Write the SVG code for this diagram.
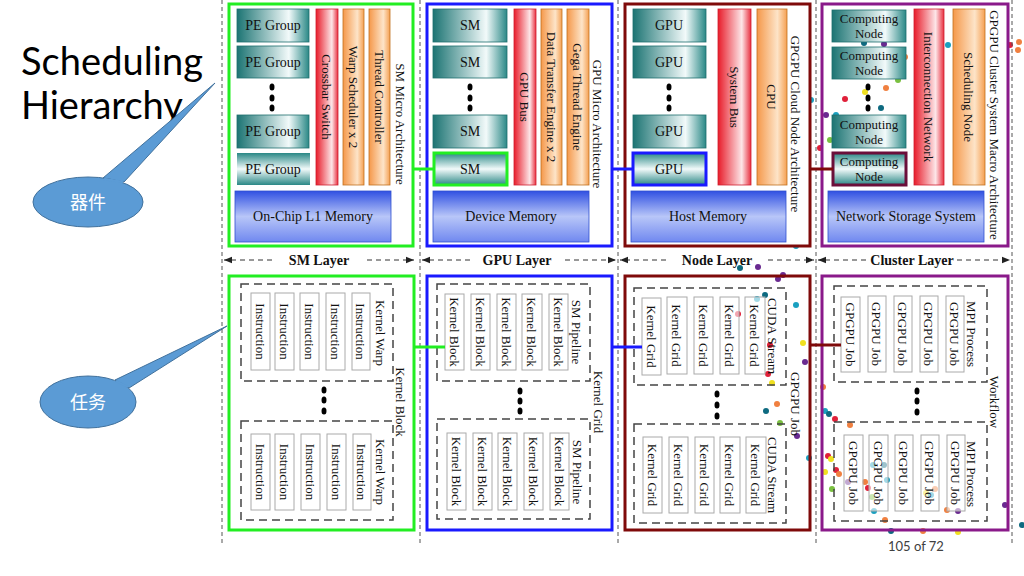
<svg xmlns="http://www.w3.org/2000/svg" width="1024" height="576" viewBox="0 0 1024 576">
<defs>
<linearGradient id="gTeal" x1="0" y1="0" x2="1" y2="0"><stop offset="0" stop-color="#1c7473"/><stop offset="0.72" stop-color="#f2fafa"/><stop offset="1" stop-color="#2a8886"/></linearGradient>
<linearGradient id="gTealV" x1="0" y1="0" x2="0" y2="1"><stop offset="0" stop-color="#2a8886"/><stop offset="0.5" stop-color="#f2fafa"/><stop offset="1" stop-color="#2a8886"/></linearGradient>
<linearGradient id="gRed" x1="0" y1="0" x2="1" y2="0"><stop offset="0" stop-color="#e81c2a"/><stop offset="0.72" stop-color="#fde6e8"/><stop offset="1" stop-color="#e83040"/></linearGradient>
<linearGradient id="gOrange" x1="0" y1="0" x2="1" y2="0"><stop offset="0" stop-color="#f5984a"/><stop offset="0.68" stop-color="#fde4c8"/><stop offset="1" stop-color="#f5a052"/></linearGradient>
<linearGradient id="gBlue" x1="0" y1="0" x2="0" y2="1"><stop offset="0" stop-color="#3050e2"/><stop offset="0.5" stop-color="#b8c6f8"/><stop offset="1" stop-color="#7088f0"/></linearGradient>
<marker id="arr" viewBox="0 0 10 10" refX="10" refY="5" markerWidth="8" markerHeight="8" orient="auto-start-reverse"><path d="M0,1 L10,5 L0,9 z" fill="#222"/></marker>
</defs>
<style>
.t{font-family:"Liberation Serif","Times New Roman",serif;font-size:13px;fill:#111}
.h{font-family:"Liberation Serif","Times New Roman",serif;font-size:14px;fill:#111}
.tb{font-family:"Liberation Serif","Times New Roman",serif;font-size:14px;font-weight:bold;fill:#111}
.teal{fill:url(#gTeal);stroke:#1f6f6e;stroke-width:0.8}
.tealv{fill:url(#gTealV)}
.red{fill:url(#gRed);stroke:#d02030;stroke-width:0.8}
.org{fill:url(#gOrange);stroke:#c07020;stroke-width:0.8}
.blu{fill:url(#gBlue);stroke:#3050d0;stroke-width:0.8}
.vdash{stroke:#555;stroke-width:1;stroke-dasharray:4,3;fill:none}
.grp{fill:none;stroke:#444;stroke-width:1.5;stroke-dasharray:8,5}
.cell{fill:#fff;stroke:#aaa;stroke-width:1}
.dot{fill:#000}
.pg{fill:#fff;stroke-width:3}
.larr{stroke:#333;stroke-width:1;stroke-dasharray:5,4;fill:none}
.co{fill:#5b9bd5;stroke:#41719c;stroke-width:1}
.bg{stroke:none}
</style>
<rect width="1024" height="576" fill="#fff"/>

<g id="background-dots" class="bg">
<circle cx="811" cy="100" r="3" fill="#1aa0c0"/><circle cx="790" cy="117" r="3" fill="#1aa0c0"/><circle cx="799" cy="146" r="3" fill="#0e6a80"/><circle cx="794" cy="151" r="3" fill="#6a2a90"/><circle cx="790" cy="202" r="3" fill="#0e6a80"/><circle cx="789" cy="211" r="3" fill="#1aa0c0"/><circle cx="796" cy="224" r="3" fill="#7ac040"/><circle cx="796" cy="246" r="3" fill="#1aa0c0"/>
<circle cx="864" cy="43" r="3" fill="#0e6a80"/><circle cx="884" cy="44" r="3" fill="#6a2a90"/><circle cx="905" cy="57" r="3" fill="#f08040"/><circle cx="948" cy="45" r="3" fill="#1aa0c0"/><circle cx="1010" cy="45" r="3" fill="#e0203a"/><circle cx="1019" cy="42" r="3" fill="#f08040"/><circle cx="1018" cy="50" r="3" fill="#f08040"/>
<circle cx="898" cy="80" r="3" fill="#7ac040"/><circle cx="865" cy="92" r="3" fill="#f0e020"/><circle cx="886" cy="88" r="3" fill="#f08040"/><circle cx="845" cy="99" r="3" fill="#e0203a"/><circle cx="881" cy="108" r="3" fill="#0e6a80"/><circle cx="826" cy="115" r="3" fill="#6a2a90"/><circle cx="836" cy="115" r="3" fill="#1aa0c0"/><circle cx="830" cy="140" r="3" fill="#7ac040"/><circle cx="820" cy="148" r="3" fill="#e0203a"/>
<circle cx="740" cy="268" r="3" fill="#0e6a80"/><circle cx="758" cy="267" r="3" fill="#6a2a90"/><circle cx="778" cy="279" r="3" fill="#6a2a90"/><circle cx="783" cy="275" r="3" fill="#6a2a90"/><circle cx="757" cy="299" r="3" fill="#1aa0c0"/><circle cx="765" cy="295" r="3" fill="#0e6a80"/><circle cx="796" cy="305" r="3" fill="#1aa0c0"/><circle cx="738" cy="314" r="3" fill="#e0203a"/><circle cx="803" cy="343" r="3" fill="#f0e020"/><circle cx="805" cy="362" r="3" fill="#6a2a90"/><circle cx="770" cy="345" r="3" fill="#e0203a"/><circle cx="768" cy="374" r="3" fill="#e0203a"/><circle cx="772" cy="383" r="3" fill="#f0e020"/><circle cx="777" cy="404" r="3" fill="#f08040"/><circle cx="766" cy="411" r="3" fill="#0e6a80"/><circle cx="780" cy="423" r="3" fill="#7ac040"/><circle cx="797" cy="436" r="3" fill="#6a2a90"/><circle cx="809" cy="458" r="3" fill="#1aa0c0"/>
<circle cx="823" cy="387" r="3" fill="#f08040"/><circle cx="825" cy="411" r="3" fill="#1aa0c0"/><circle cx="829" cy="414" r="3" fill="#0e6a80"/><circle cx="835" cy="419" r="3" fill="#e0203a"/><circle cx="850" cy="425" r="3" fill="#f08040"/><circle cx="828" cy="456" r="3" fill="#e0203a"/><circle cx="831" cy="459" r="3" fill="#f0e020"/><circle cx="836" cy="470" r="3" fill="#e0203a"/><circle cx="839" cy="474" r="3" fill="#f08040"/><circle cx="825" cy="472" r="3" fill="#f0e020"/><circle cx="832" cy="489" r="3" fill="#7ac040"/>
<circle cx="873" cy="465" r="3" fill="#1aa0c0"/><circle cx="884" cy="465" r="3" fill="#0e6a80"/><circle cx="848" cy="482" r="3" fill="#6a2a90"/><circle cx="865" cy="482" r="3" fill="#f08040"/><circle cx="868" cy="488" r="3" fill="#e0203a"/><circle cx="887" cy="480" r="3" fill="#1aa0c0"/><circle cx="872" cy="497" r="3" fill="#7ac040"/><circle cx="874" cy="511" r="3" fill="#1aa0c0"/><circle cx="935" cy="489" r="3" fill="#f08040"/><circle cx="926" cy="493" r="3" fill="#f0e020"/><circle cx="931" cy="495" r="3" fill="#1aa0c0"/><circle cx="947" cy="510" r="3" fill="#f08040"/><circle cx="958" cy="511" r="3" fill="#6a2a90"/><circle cx="1005" cy="505" r="3" fill="#6a2a90"/><circle cx="1022" cy="525" r="3" fill="#0e6a80"/><circle cx="885" cy="520" r="3" fill="#f08040"/><circle cx="891" cy="531" r="3" fill="#0e6a80"/><circle cx="923" cy="531" r="3" fill="#f08040"/><circle cx="958" cy="532" r="3" fill="#f0e020"/>
</g>

<g id="title">
<text x="21" y="75" style="font-family:Lato,'Open Sans',sans-serif;font-size:38px;fill:#000" textLength="182">Scheduling</text>
<text x="21" y="119" style="font-family:Lato,'Open Sans',sans-serif;font-size:38px;fill:#000">Hierarchy</text>
</g>

<g id="callout-device">
<polygon class="co" points="103,178 124,182 215,83"/>
<ellipse class="co" cx="88" cy="202" rx="55" ry="25"/>
<path d="M104,179 L123,182" stroke="#5b9bd5" stroke-width="2.5"/>
<text x="88" y="209" text-anchor="middle" style="font-family:'Noto Sans CJK SC',sans-serif;font-size:18px;fill:#fff">器件</text>
</g>
<g id="callout-task">
<polygon class="co" points="115,380 129,388 227,326"/>
<ellipse class="co" cx="88" cy="402" rx="48" ry="26"/>
<path d="M116,381 L128,387" stroke="#5b9bd5" stroke-width="2.5"/>
<text x="88" y="409" text-anchor="middle" style="font-family:'Noto Sans CJK SC',sans-serif;font-size:18px;fill:#fff">任务</text>
</g>

<g id="dividers">
<line class="vdash" x1="222" y1="0" x2="222" y2="545"/>
<line class="vdash" x1="420" y1="0" x2="420" y2="545"/>
<line class="vdash" x1="618" y1="0" x2="618" y2="545"/>
<line class="vdash" x1="816" y1="0" x2="816" y2="545"/>
<line class="vdash" x1="1012" y1="0" x2="1012" y2="545"/>
</g>

<g id="layer-labels">
<line class="larr" x1="272" y1="260" x2="224" y2="260" marker-end="url(#arr)"/>
<line class="larr" x1="367" y1="260" x2="414" y2="260" marker-end="url(#arr)"/>
<text class="tb" x="319" y="265" text-anchor="middle">SM Layer</text>
<line class="larr" x1="470" y1="260" x2="422" y2="260" marker-end="url(#arr)"/>
<line class="larr" x1="565" y1="260" x2="616" y2="260" marker-end="url(#arr)"/>
<text class="tb" x="517" y="265" text-anchor="middle">GPU Layer</text>
<line class="larr" x1="666" y1="260" x2="620" y2="260" marker-end="url(#arr)"/>
<line class="larr" x1="768" y1="260" x2="814" y2="260" marker-end="url(#arr)"/>
<text class="tb" x="717" y="265" text-anchor="middle">Node Layer</text>
<line class="larr" x1="866" y1="260" x2="818" y2="260" marker-end="url(#arr)"/>
<line class="larr" x1="957" y1="260" x2="1010" y2="260" marker-end="url(#arr)"/>
<text class="tb" x="912" y="265" text-anchor="middle">Cluster Layer</text>
</g>

<!-- ================= TOP: SM ================= -->
<g id="sm-micro-architecture">
<rect class="pg" x="229" y="4" width="184" height="242" stroke="#22ee22"/>
<rect class="teal" x="237" y="9" width="72" height="33"/><text class="h" x="273" y="30" text-anchor="middle">PE Group</text>
<rect class="teal" x="237" y="46" width="72" height="32"/><text class="h" x="273" y="67" text-anchor="middle">PE Group</text>
<ellipse class="dot" cx="272" cy="87" rx="2.5" ry="3.5"/><ellipse class="dot" cx="272" cy="98" rx="2.5" ry="3.5"/><ellipse class="dot" cx="272" cy="108" rx="2.5" ry="3.5"/>
<rect class="teal" x="237" y="115" width="72" height="33"/><text class="h" x="273" y="136" text-anchor="middle">PE Group</text>
<rect class="tealv" x="237" y="153" width="73" height="32"/><text class="h" x="273" y="174" text-anchor="middle">PE Group</text>
<rect class="red" x="316" y="9" width="22" height="176"/><text class="t" transform="translate(327,97) rotate(90)" text-anchor="middle" dy="0.35em">Crossbar Switch</text>
<rect class="org" x="343" y="9" width="21" height="176"/><text class="t" transform="translate(353.5,97) rotate(90)" text-anchor="middle" dy="0.35em">Warp Scheduler x 2</text>
<rect class="org" x="369" y="9" width="21" height="176"/><text class="t" transform="translate(379.5,97) rotate(90)" text-anchor="middle" dy="0.35em">Thread Controller</text>
<text class="t" transform="translate(401,124) rotate(90)" text-anchor="middle" dy="0.35em">SM Micro Architecture</text>
<rect class="blu" x="235" y="191" width="156" height="51"/><text class="h" x="313" y="221" text-anchor="middle">On-Chip L1 Memory</text>
</g>

<!-- ================= TOP: GPU ================= -->
<g id="gpu-micro-architecture">
<rect class="pg" x="427" y="4" width="185" height="242" stroke="#1a1aff"/>
<rect class="teal" x="433" y="9" width="74" height="33"/><text class="h" x="470" y="30" text-anchor="middle">SM</text>
<rect class="teal" x="433" y="46" width="74" height="32"/><text class="h" x="470" y="67" text-anchor="middle">SM</text>
<ellipse class="dot" cx="470" cy="87" rx="2.5" ry="3.5"/><ellipse class="dot" cx="470" cy="98" rx="2.5" ry="3.5"/><ellipse class="dot" cx="470" cy="108" rx="2.5" ry="3.5"/>
<rect class="teal" x="433" y="115" width="74" height="33"/><text class="h" x="470" y="136" text-anchor="middle">SM</text>
<rect class="tealv" x="434" y="153" width="73" height="32" stroke="#22ee22" stroke-width="3"/><text class="h" x="470" y="174" text-anchor="middle">SM</text>
<rect class="red" x="514" y="9" width="22" height="176"/><text class="t" transform="translate(525,97) rotate(90)" text-anchor="middle" dy="0.35em">GPU Bus</text>
<rect class="org" x="541" y="9" width="21" height="176"/><text class="t" transform="translate(551.5,97) rotate(90)" text-anchor="middle" dy="0.35em">Data Transfer Engine x 2</text>
<rect class="org" x="567" y="9" width="22" height="176"/><text class="t" transform="translate(578,97) rotate(90)" text-anchor="middle" dy="0.35em">Gega Thread Engine</text>
<text class="t" transform="translate(598,124) rotate(90)" text-anchor="middle" dy="0.35em">GPU Micro Architecture</text>
<rect class="blu" x="433" y="191" width="156" height="51"/><text class="h" x="511" y="221" text-anchor="middle">Device Memory</text>
</g>

<!-- ================= TOP: NODE ================= -->
<g id="gpgpu-cloud-node-architecture">
<rect class="pg" x="625" y="4" width="185" height="242" stroke="#7f0a0a"/>
<rect class="teal" x="633" y="9" width="73" height="33"/><text class="h" x="669" y="30" text-anchor="middle">GPU</text>
<rect class="teal" x="633" y="46" width="73" height="32"/><text class="h" x="669" y="67" text-anchor="middle">GPU</text>
<ellipse class="dot" cx="669" cy="87" rx="2.5" ry="3.5"/><ellipse class="dot" cx="669" cy="98" rx="2.5" ry="3.5"/><ellipse class="dot" cx="669" cy="108" rx="2.5" ry="3.5"/>
<rect class="teal" x="633" y="115" width="73" height="33"/><text class="h" x="669" y="136" text-anchor="middle">GPU</text>
<rect class="tealv" x="633" y="153" width="73" height="32" stroke="#1a1aff" stroke-width="3"/><text class="h" x="669" y="174" text-anchor="middle">GPU</text>
<rect class="red" x="718" y="9" width="33" height="176"/><text class="t" transform="translate(734.5,97) rotate(90)" text-anchor="middle" dy="0.35em">System Bus</text>
<rect class="org" x="757" y="9" width="30" height="176"/><text class="t" transform="translate(772,97) rotate(90)" text-anchor="middle" dy="0.35em">CPU</text>
<text class="t" transform="translate(796,124) rotate(90)" text-anchor="middle" dy="0.35em">GPGPU Cloud Node Architecture</text>
<rect class="blu" x="631" y="191" width="155" height="51"/><text class="h" x="708" y="221" text-anchor="middle">Host Memory</text>
</g>

<!-- ================= TOP: CLUSTER ================= -->
<g id="gpgpu-cluster-system">
<rect class="pg" x="822" y="4" width="186" height="242" stroke="#8a1a8a" fill-opacity="0"/>
<rect class="teal" x="832" y="10" width="74" height="32"/><text class="t" x="869" y="23" text-anchor="middle">Computing</text><text class="t" x="869" y="38" text-anchor="middle">Node</text>
<rect class="teal" x="832" y="47" width="74" height="32"/><text class="t" x="869" y="60" text-anchor="middle">Computing</text><text class="t" x="869" y="75" text-anchor="middle">Node</text>
<ellipse class="dot" cx="868" cy="87" rx="2.5" ry="3.5"/><ellipse class="dot" cx="868" cy="98" rx="2.5" ry="3.5"/><ellipse class="dot" cx="868" cy="108" rx="2.5" ry="3.5"/>
<rect class="teal" x="832" y="115" width="74" height="33"/><text class="t" x="869" y="129" text-anchor="middle">Computing</text><text class="t" x="869" y="144" text-anchor="middle">Node</text>
<rect class="tealv" x="833" y="153" width="73" height="32" stroke="#6b0f3a" stroke-width="3"/><text class="t" x="869" y="166" text-anchor="middle">Computing</text><text class="t" x="869" y="181" text-anchor="middle">Node</text>
<rect class="red" x="914" y="9" width="30" height="176"/><text class="t" transform="translate(929,97) rotate(90)" text-anchor="middle" dy="0.35em">Interconnection Network</text>
<rect class="org" x="953" y="9" width="32" height="176"/><text class="t" transform="translate(969,97) rotate(90)" text-anchor="middle" dy="0.35em">Scheduling Node</text>
<text class="t" transform="translate(995,125) rotate(90)" text-anchor="middle" dy="0.35em">GPGPU Cluster System Macro Architecture</text>
<rect class="blu" x="828" y="191" width="156" height="51"/><text class="h" x="906" y="221" text-anchor="middle">Network Storage System</text>
</g>

<!-- ================= BOTTOM: SM ================= -->
<g id="kernel-block">
<rect class="pg" x="229" y="276" width="185" height="254" stroke="#22ee22"/>
<rect class="grp" x="241" y="284" width="152" height="97"/>
<rect class="cell" x="251" y="293" width="19" height="77"/><text class="t" transform="translate(260.5,331.5) rotate(90)" text-anchor="middle" dy="0.35em">Instruction</text>
<rect class="cell" x="275" y="293" width="19" height="77"/><text class="t" transform="translate(284.5,331.5) rotate(90)" text-anchor="middle" dy="0.35em">Instruction</text>
<rect class="cell" x="300" y="293" width="19" height="77"/><text class="t" transform="translate(309.5,331.5) rotate(90)" text-anchor="middle" dy="0.35em">Instruction</text>
<rect class="cell" x="326" y="293" width="19" height="77"/><text class="t" transform="translate(335.5,331.5) rotate(90)" text-anchor="middle" dy="0.35em">Instruction</text>
<rect class="cell" x="352" y="293" width="18" height="77"/><text class="t" transform="translate(361,331.5) rotate(90)" text-anchor="middle" dy="0.35em">Instruction</text>
<text class="t" transform="translate(381,333) rotate(90)" text-anchor="middle" dy="0.35em">Kernel Warp</text>
<ellipse class="dot" cx="324" cy="390" rx="2.5" ry="3.5"/><ellipse class="dot" cx="324" cy="400" rx="2.5" ry="3.5"/><ellipse class="dot" cx="324" cy="411" rx="2.5" ry="3.5"/>
<rect class="grp" x="241" y="421" width="152" height="99"/>
<rect class="cell" x="251" y="434" width="19" height="76"/><text class="t" transform="translate(260.5,472) rotate(90)" text-anchor="middle" dy="0.35em">Instruction</text>
<rect class="cell" x="275" y="434" width="19" height="76"/><text class="t" transform="translate(284.5,472) rotate(90)" text-anchor="middle" dy="0.35em">Instruction</text>
<rect class="cell" x="301" y="434" width="19" height="76"/><text class="t" transform="translate(310.5,472) rotate(90)" text-anchor="middle" dy="0.35em">Instruction</text>
<rect class="cell" x="327" y="434" width="19" height="76"/><text class="t" transform="translate(336.5,472) rotate(90)" text-anchor="middle" dy="0.35em">Instruction</text>
<rect class="cell" x="353" y="434" width="18" height="76"/><text class="t" transform="translate(362,472) rotate(90)" text-anchor="middle" dy="0.35em">Instruction</text>
<text class="t" transform="translate(381,472) rotate(90)" text-anchor="middle" dy="0.35em">Kernel Warp</text>
<text class="t" transform="translate(401,402) rotate(90)" text-anchor="middle" dy="0.35em">Kernel Block</text>
</g>

<!-- ================= BOTTOM: GPU ================= -->
<g id="kernel-grid">
<rect class="pg" x="427" y="276" width="185" height="254" stroke="#1a1aff"/>
<rect class="grp" x="437" y="284" width="153" height="97"/>
<rect class="cell" x="445" y="294" width="19" height="76" stroke="#22ee22" stroke-width="3"/><text class="t" transform="translate(454.5,332) rotate(90)" text-anchor="middle" dy="0.35em">Kernel Block</text>
<rect class="cell" x="471" y="294" width="19" height="76"/><text class="t" transform="translate(480.5,332) rotate(90)" text-anchor="middle" dy="0.35em">Kernel Block</text>
<rect class="cell" x="497" y="294" width="19" height="76"/><text class="t" transform="translate(506.5,332) rotate(90)" text-anchor="middle" dy="0.35em">Kernel Block</text>
<rect class="cell" x="522" y="294" width="20" height="76"/><text class="t" transform="translate(532,332) rotate(90)" text-anchor="middle" dy="0.35em">Kernel Block</text>
<rect class="cell" x="549" y="294" width="19" height="76"/><text class="t" transform="translate(558.5,332) rotate(90)" text-anchor="middle" dy="0.35em">Kernel Block</text>
<text class="t" transform="translate(577,332) rotate(90)" text-anchor="middle" dy="0.35em">SM Pipeline</text>
<ellipse class="dot" cx="520" cy="391" rx="2.5" ry="3.5"/><ellipse class="dot" cx="520" cy="401" rx="2.5" ry="3.5"/><ellipse class="dot" cx="520" cy="411" rx="2.5" ry="3.5"/>
<rect class="grp" x="437" y="419" width="153" height="100"/>
<rect class="cell" x="447" y="433" width="19" height="77"/><text class="t" transform="translate(456.5,471.5) rotate(90)" text-anchor="middle" dy="0.35em">Kernel Block</text>
<rect class="cell" x="473" y="433" width="19" height="77"/><text class="t" transform="translate(482.5,471.5) rotate(90)" text-anchor="middle" dy="0.35em">Kernel Block</text>
<rect class="cell" x="498" y="433" width="19" height="77"/><text class="t" transform="translate(507.5,471.5) rotate(90)" text-anchor="middle" dy="0.35em">Kernel Block</text>
<rect class="cell" x="524" y="433" width="19" height="77"/><text class="t" transform="translate(533.5,471.5) rotate(90)" text-anchor="middle" dy="0.35em">Kernel Block</text>
<rect class="cell" x="550" y="433" width="19" height="77"/><text class="t" transform="translate(559.5,471.5) rotate(90)" text-anchor="middle" dy="0.35em">Kernel Block</text>
<text class="t" transform="translate(578,472) rotate(90)" text-anchor="middle" dy="0.35em">SM Pipeline</text>
<text class="t" transform="translate(599,402) rotate(90)" text-anchor="middle" dy="0.35em">Kernel Grid</text>
</g>

<!-- ================= BOTTOM: NODE ================= -->
<g id="gpgpu-job">
<rect class="pg" x="625" y="276" width="185" height="254" stroke="#7f0a0a" fill-opacity="0"/>
<rect class="grp" x="634" y="288" width="152" height="97"/>
<rect class="cell" x="642" y="298" width="19" height="77" stroke="#1a1aff" stroke-width="3" fill-opacity="0.6"/><text class="t" transform="translate(651.5,336.5) rotate(90)" text-anchor="middle" dy="0.35em">Kernel Grid</text>
<rect class="cell" x="667" y="297" width="20" height="77" fill-opacity="0.6"/><text class="t" transform="translate(677,335.5) rotate(90)" text-anchor="middle" dy="0.35em">Kernel Grid</text>
<rect class="cell" x="694" y="297" width="19" height="77" fill-opacity="0.6"/><text class="t" transform="translate(703.5,335.5) rotate(90)" text-anchor="middle" dy="0.35em">Kernel Grid</text>
<rect class="cell" x="720" y="297" width="19" height="77" fill-opacity="0.6"/><text class="t" transform="translate(729.5,335.5) rotate(90)" text-anchor="middle" dy="0.35em">Kernel Grid</text>
<rect class="cell" x="745" y="297" width="20" height="77" fill-opacity="0.6"/><text class="t" transform="translate(755,335.5) rotate(90)" text-anchor="middle" dy="0.35em">Kernel Grid</text>
<text class="t" transform="translate(773,336) rotate(90)" text-anchor="middle" dy="0.35em">CUDA Stream</text>
<ellipse class="dot" cx="717" cy="394" rx="2.5" ry="3.5"/><ellipse class="dot" cx="717" cy="405" rx="2.5" ry="3.5"/><ellipse class="dot" cx="717" cy="416" rx="2.5" ry="3.5"/>
<rect class="grp" x="634" y="424" width="152" height="99"/>
<rect class="cell" x="643" y="437" width="19" height="76" fill-opacity="0.6"/><text class="t" transform="translate(652.5,475) rotate(90)" text-anchor="middle" dy="0.35em">Kernel Grid</text>
<rect class="cell" x="669" y="437" width="19" height="76" fill-opacity="0.6"/><text class="t" transform="translate(678.5,475) rotate(90)" text-anchor="middle" dy="0.35em">Kernel Grid</text>
<rect class="cell" x="695" y="437" width="19" height="76" fill-opacity="0.6"/><text class="t" transform="translate(704.5,475) rotate(90)" text-anchor="middle" dy="0.35em">Kernel Grid</text>
<rect class="cell" x="720" y="437" width="20" height="76" fill-opacity="0.6"/><text class="t" transform="translate(730,475) rotate(90)" text-anchor="middle" dy="0.35em">Kernel Grid</text>
<rect class="cell" x="746" y="437" width="20" height="76" fill-opacity="0.6"/><text class="t" transform="translate(756,475) rotate(90)" text-anchor="middle" dy="0.35em">Kernel Grid</text>
<text class="t" transform="translate(773,475) rotate(90)" text-anchor="middle" dy="0.35em">CUDA Stream</text>
<text class="t" transform="translate(796,404) rotate(90)" text-anchor="middle" dy="0.35em">GPGPU Job</text>
</g>

<!-- ================= BOTTOM: CLUSTER ================= -->
<g id="workflow">
<rect class="pg" x="822" y="276" width="186" height="254" stroke="#8a1a8a" fill-opacity="0"/>
<rect class="grp" x="834" y="286" width="153" height="96"/>
<rect class="cell" x="841" y="297" width="19" height="75" stroke="#6b0f3a" stroke-width="3" fill-opacity="0.6"/><text class="t" transform="translate(850.5,334.5) rotate(90)" text-anchor="middle" dy="0.35em">GPGPU Job</text>
<rect class="cell" x="868" y="296" width="18" height="76" fill-opacity="0.6"/><text class="t" transform="translate(877,334) rotate(90)" text-anchor="middle" dy="0.35em">GPGPU Job</text>
<rect class="cell" x="894" y="296" width="18" height="76" fill-opacity="0.6"/><text class="t" transform="translate(903,334) rotate(90)" text-anchor="middle" dy="0.35em">GPGPU Job</text>
<rect class="cell" x="920" y="296" width="18" height="76" fill-opacity="0.6"/><text class="t" transform="translate(929,334) rotate(90)" text-anchor="middle" dy="0.35em">GPGPU Job</text>
<rect class="cell" x="946" y="296" width="18" height="76" fill-opacity="0.6"/><text class="t" transform="translate(955,334) rotate(90)" text-anchor="middle" dy="0.35em">GPGPU Job</text>
<text class="t" transform="translate(972,334) rotate(90)" text-anchor="middle" dy="0.35em">MPI Process</text>
<ellipse class="dot" cx="917" cy="391" rx="2.5" ry="3.5"/><ellipse class="dot" cx="917" cy="401" rx="2.5" ry="3.5"/><ellipse class="dot" cx="917" cy="412" rx="2.5" ry="3.5"/>
<rect class="grp" x="834" y="422" width="153" height="99"/>
<rect class="cell" x="844" y="435" width="19" height="76" fill-opacity="0.6"/><text class="t" transform="translate(853.5,473) rotate(90)" text-anchor="middle" dy="0.35em">GPGPU Job</text>
<rect class="cell" x="869" y="435" width="19" height="76" fill-opacity="0.6"/><text class="t" transform="translate(878.5,473) rotate(90)" text-anchor="middle" dy="0.35em">GPGPU Job</text>
<rect class="cell" x="895" y="435" width="18" height="76" fill-opacity="0.6"/><text class="t" transform="translate(904,473) rotate(90)" text-anchor="middle" dy="0.35em">GPGPU Job</text>
<rect class="cell" x="921" y="435" width="18" height="76" fill-opacity="0.6"/><text class="t" transform="translate(930,473) rotate(90)" text-anchor="middle" dy="0.35em">GPGPU Job</text>
<rect class="cell" x="947" y="435" width="18" height="76" fill-opacity="0.6"/><text class="t" transform="translate(956,473) rotate(90)" text-anchor="middle" dy="0.35em">GPGPU Job</text>
<text class="t" transform="translate(972,474) rotate(90)" text-anchor="middle" dy="0.35em">MPI Process</text>
<text class="t" transform="translate(995,402) rotate(90)" text-anchor="middle" dy="0.35em">Workflow</text>
</g>

<g id="connectors" fill="none" stroke-width="3">
<line x1="413" y1="169" x2="434" y2="169" stroke="#22ee22"/>
<line x1="612" y1="169" x2="633" y2="169" stroke="#1a1aff"/>
<line x1="810" y1="169" x2="833" y2="169" stroke="#7f0a0a"/>
<line x1="414" y1="347" x2="445" y2="347" stroke="#22ee22"/>
<line x1="612" y1="347" x2="642" y2="347" stroke="#1a1aff"/>
<line x1="810" y1="345" x2="841" y2="345" stroke="#7f0a0a"/>
</g>

<g id="page-number">
<text x="888" y="551" style="font-family:Lato,'Open Sans',sans-serif;font-size:13px;fill:#404040">105 of 72</text>
</g>
</svg>
